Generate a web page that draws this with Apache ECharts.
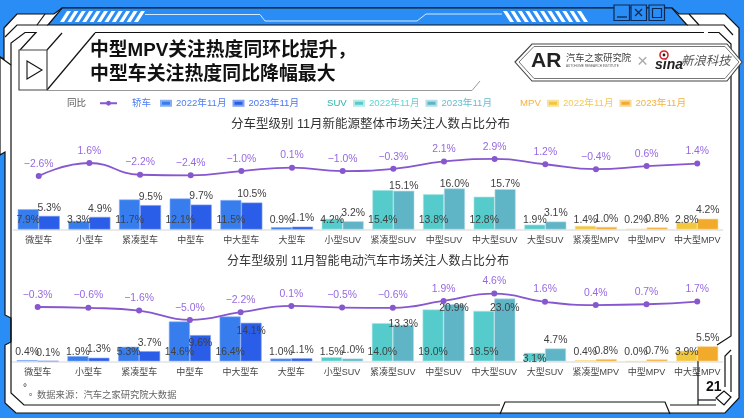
<!DOCTYPE html>
<html><head><meta charset="utf-8">
<style>html,body{margin:0;padding:0;background:#fff}#c{width:744px;height:418px}</style>
<script src="https://cdn.jsdelivr.net/npm/echarts@6/dist/echarts.min.js"></script>
</head><body><div id="c"></div>
<script>
const categories=['微型车','小型车','紧凑型车','中型车','中大型车','大型车','小型SUV','紧凑型SUV','中型SUV','中大型SUV','大型SUV','紧凑型MPV','中型MPV','中大型MPV'];
const nevYoY=[-2.6,1.6,-2.2,-2.4,-1.0,0.1,-1.0,-0.3,2.1,2.9,1.2,-0.4,0.6,1.4];
const nevCar2022=[7.9,3.3,11.7,12.1,11.5,0.9];
const nevCar2023=[5.3,4.9,9.5,9.7,10.5,1.1];
const nevSuv2022=[4.2,15.4,13.8,12.8,1.9];
const nevSuv2023=[3.2,15.1,16.0,15.7,3.1];
const nevMpv2022=[1.4,0.2,2.8];
const nevMpv2023=[1.0,0.8,4.2];
const iecYoY=[-0.3,-0.6,-1.6,-5.0,-2.2,0.1,-0.5,-0.6,1.9,4.6,1.6,0.4,0.7,1.7];
const iecCar2022=[0.4,1.9,5.3,14.6,16.4,1.0];
const iecCar2023=[0.1,1.3,3.7,9.6,14.1,1.1];
const iecSuv2022=[1.5,14.0,19.0,18.5,3.1];
const iecSuv2023=[1.0,13.3,20.9,23.0,4.7];
const iecMpv2022=[0.4,0.0,3.9];
const iecMpv2023=[0.8,0.7,5.5];
const months=['2022年11月','2023年11月'];

const FONT="'Liberation Sans','Noto Sans CJK SC',sans-serif";
const BLUE='#2A8CF5';
const chart=echarts.init(document.getElementById('c'),null,{renderer:'canvas'});
const pad=(arr,before,after)=>[...Array(before).fill(null),...arr,...Array(after).fill(null)];
const groups=[
 {key:'轿车',before:0,after:8,colors:['#377DEE','#2A5DE8'],edges:['#86AEF5','#7FA0F3']},
 {key:'SUV',before:6,after:3,colors:['#55CCCB','#5FB4C6'],edges:['#B5EAE8','#B4DEE8']},
 {key:'MPV',before:11,after:0,colors:['#F2C73D','#F2AA2A'],edges:['#F8E19A','#F8D699']}
];
const datasets=[
 {id:'nev',yoy:nevYoY,v:[[nevCar2022,nevCar2023],[nevSuv2022,nevSuv2023],[nevMpv2022,nevMpv2023]],
  offs2023:{7:4,8:4,9:3},offs2022:{}},
 {id:'iec',yoy:iecYoY,v:[[iecCar2022,iecCar2023],[iecSuv2022,iecSuv2023],[iecMpv2022,iecMpv2023]],
  offs2023:{3:16,4:17,7:7,8:12.5,9:18},offs2022:{10:7}}
];
const series=[];
datasets.forEach((d,di)=>{
 const axisBar=di*2, axisLine=di*2+1;
 groups.forEach((g,gi)=>{
  [0,1].forEach(yi=>{
   const offs=yi?d.offs2023:d.offs2022;
   const data=pad(d.v[gi][yi],g.before,g.after).map((val,i)=>{
    if(offs[i]===undefined) return val;
    return {value:val,label:{offset:[0,offs[i]]}};
   });
   series.push({
    type:'bar',name:g.key+months[yi],xAxisIndex:di,yAxisIndex:axisBar,stack:d.id+yi,
    barWidth:21,barGap:'0%',data,
    itemStyle:{color:g.colors[yi],borderColor:g.edges[yi],borderWidth:0.6},
    label:{show:true,position:yi?'top':'insideBottom',distance:yi?3:4,fontSize:10.4,fontFamily:FONT,color:'#404040',
      formatter:p=>p.value==null?'':Number(p.value).toFixed(1)+'%'},
    emphasis:{disabled:true},animation:false,z:3
   });
  });
 });
 series.push({
  type:'line',name:'同比',xAxisIndex:di,yAxisIndex:axisLine,data:d.yoy,smooth:true,
  symbol:'circle',symbolSize:6,
  lineStyle:{color:'#8757CF',width:1.8},itemStyle:{color:'#8757CF'},
  label:{show:true,position:'top',distance:4,fontSize:10.4,fontFamily:FONT,color:'#9669E0',
   formatter:p=>Number(p.value).toFixed(1).replace('-','−')+'%'},
  emphasis:{disabled:true},animation:false,z:5
 });
});
const grid1={left:13.4,width:709.2,top:150,height:79.5};
const grid2={left:12.3,width:710.3,top:280,height:81.3};
const xAxis=(gi,margin)=>({type:'category',gridIndex:gi,data:categories,
 axisTick:{show:false},axisLine:{lineStyle:{color:'#E4E4E4',width:1.5}},
 axisLabel:{interval:0,margin,fontSize:9,fontFamily:FONT,color:'#444'}});
const yAxis=(gi,min,max)=>({type:'value',gridIndex:gi,min,max,show:false,splitLine:{show:false}});

const lg=(left,key,textColors)=>({
 left,top:98.5,padding:0,itemWidth:10,itemHeight:5,itemGap:6,icon:'rect',selectedMode:false,
 formatter:n=>n.slice(-8),
 textStyle:{fontSize:9.6,fontFamily:FONT},
 data:months.map((m,i)=>({name:key+m,textStyle:{color:textColors[i],fontSize:9.6,fontFamily:FONT}}))
});
const legend=[
 {left:67,top:98.5,padding:0,align:'right',itemWidth:17,itemHeight:6,selectedMode:false,
  data:[{name:'同比',textStyle:{color:'#555',fontSize:9.5,fontFamily:FONT,padding:[0,9,0,0]}}]},
 lg(160,'轿车',['#4F7FF2','#4A74EE']),
 lg(353,'SUV',['#62D4D0','#66BBD0']),
 lg(547,'MPV',['#F5C856','#F4B23C'])
];

const G=[];
const S='#111';
const poly=(pts,fill,stroke,lw,z)=>G.push({type:'polygon',shape:{points:pts},z:z||0,silent:true,style:{fill:fill||'none',stroke:stroke||null,lineWidth:lw||1.2}});
const pl=(pts,stroke,lw,z)=>G.push({type:'polyline',shape:{points:pts},z:z||1,silent:true,style:{fill:'none',stroke:stroke||S,lineWidth:lw||1.2}});
const tx=(x,y,text,fs,color,extra)=>G.push({type:'text',x,y:y+1.5,z:4,silent:true,style:Object.assign({text,fontSize:fs,fill:color,fontFamily:FONT,textVerticalAlign:'middle',verticalAlign:'middle'},extra||{})});
G.push({type:'rect',shape:{x:0,y:0,width:744,height:418},z:-1,silent:true,style:{fill:BLUE}});
// outer white body
poly([[4,28],[17,14],[54,14],[62,8],[672,8],[679,14],[725,14],[739,28],[739,398],[725,413],[16,413],[5,403],[5,345],[11,342],[11,318],[5,315],[5,152],[0,155],[0,57],[4,59]],'#fff',S,1.2);
// top strip
poly([[48,25],[62,8],[672,8],[687,25]],BLUE,S,1.2,1);
pl([[45,14],[37,25]]);pl([[689,14],[699,25]]);
pl([[5,37],[17,25],[48,25]]);pl([[687,25],[724,25],[733,35]]);
pl([[0,57],[11,65]]);
// inner frame
pl([[500,405],[24,405],[11,393],[11,43],[25,32.5],[36,32.5],[20,50]]);
pl([[95,32.5],[704,32.5]]);pl([[708,32.5],[719,32.5],[731,44],[731,336],[717,345]]);
pl([[731,350],[725,356],[725,387]]);pl([[731,355],[731,392]]);
pl([[670,405],[716,405]]);pl([[698,400],[716,400]]);pl([[698,360],[698,405]]);
poly([[716,398],[724,391],[731,397],[724,405]],'#fff',S,1.2,1);
pl([[500,414],[505,402],[665,402],[670,414]]);
// hatch and strip lines
for(let i=0;i<11;i++){const x=60+i*7.4;poly([[x,22],[x+7,11],[x+11,11],[x+4,22]],'#fff',null,1,2);}
for(let i=0;i<11;i++){const x=503+i*7.4;poly([[x,11],[x+4,11],[x+11,22],[x+7,22]],'#fff',null,1,2);}
pl([[145,14.5],[260,14.5],[265,21],[417,21],[426,14],[502,14]],'#D5EAFF',1,2);
// window buttons
[[614,5],[631,5],[649,5]].forEach(p=>G.push({type:'rect',shape:{x:p[0],y:p[1],width:15.5,height:15.5},z:3,silent:true,style:{fill:BLUE,stroke:'#0D2A55',lineWidth:1.2}}));
pl([[617,17],[627,17]],'#0D2A55',1.3,4);
pl([[635,9],[642,16]],'#0D2A55',1.3,4);pl([[642,9],[635,16]],'#0D2A55',1.3,4);
G.push({type:'rect',shape:{x:652.5,y:8.5,width:9,height:9},z:4,silent:true,style:{fill:'none',stroke:'#0D2A55',lineWidth:1.2}});
// title cube
G.push({type:'rect',shape:{x:19,y:50,width:28,height:40},z:2,silent:true,style:{fill:'#fff',stroke:'#444',lineWidth:1.2}});
pl([[47,50],[62,33]]);pl([[47,90],[95,33]]);
poly([[27,61],[42,70],[27,79]],'#fff',S,1.1,3);
pl([[47,90.5],[472,90.5],[480,81]],'#999',1,1);
// logo plate
poly([[515,62],[532,44],[727,44],[742,62],[727,81],[532,81]],'#fff','#444',1.1,3);
poly([[519,62],[534,46.5],[725,46.5],[739,62],[725,78.5],[534,78.5]],'#fff','#666',0.9,3);
tx(531,59.5,'AR',21,'#222',{fontWeight:'bold'});
tx(566,56.5,'汽车之家研究院',9.3,'#444');
tx(566,64.5,'AUTOHOME RESEARCH INSTITUTE',3.1,'#555');
tx(637,60.5,'×',19,'#aaa');
tx(655,63.5,'sina',14,'#222',{fontWeight:'bold',fontStyle:'italic'});
G.push({type:'circle',shape:{cx:664,cy:55,r:4},z:5,silent:true,style:{fill:'#fff',stroke:'#D8232A',lineWidth:1.6}});
G.push({type:'circle',shape:{cx:664,cy:55,r:1.4},z:5,silent:true,style:{fill:'#222'}});
tx(681,60.5,'新浪科技',12.4,'#555',{fontStyle:'italic'});
// text
tx(90,49.5,'中型MPV关注热度同环比提升，',18.8,'#111',{fontWeight:'bold'});
tx(90,73.5,'中型车关注热度同比降幅最大',18.9,'#111',{fontWeight:'bold'});
tx(132,102,'轿车',9.5,'#4F7FF2');
tx(327,102,'SUV',9.6,'#2DB3A8');
tx(520,102,'MPV',9.6,'#F5B040');
tx(231,123.5,'分车型级别 11月新能源整体市场关注人数占比分布',12.5,'#333');
tx(227,260.5,'分车型级别 11月智能电动汽车市场关注人数占比分布',12.1,'#333');
tx(23,386.5,'°',10,'#333');tx(29,391.5,'。',8,'#333');
tx(37,393.5,'数据来源：汽车之家研究院大数据',9.3,'#666');
tx(706,385.5,'21',14,'#111',{fontWeight:'bold'});

chart.setOption({
 animation:false,
 backgroundColor:'#fff',
 textStyle:{fontFamily:FONT},
 grid:[grid1,grid2],
 xAxis:[xAxis(0,7),xAxis(1,7)],
 yAxis:[yAxis(0,0,31),yAxis(0,-19.9,5.8),yAxis(1,0,29.8),yAxis(1,-20.1,9.55)],
 legend,series,graphic:{elements:G}
});
</script></body></html>
